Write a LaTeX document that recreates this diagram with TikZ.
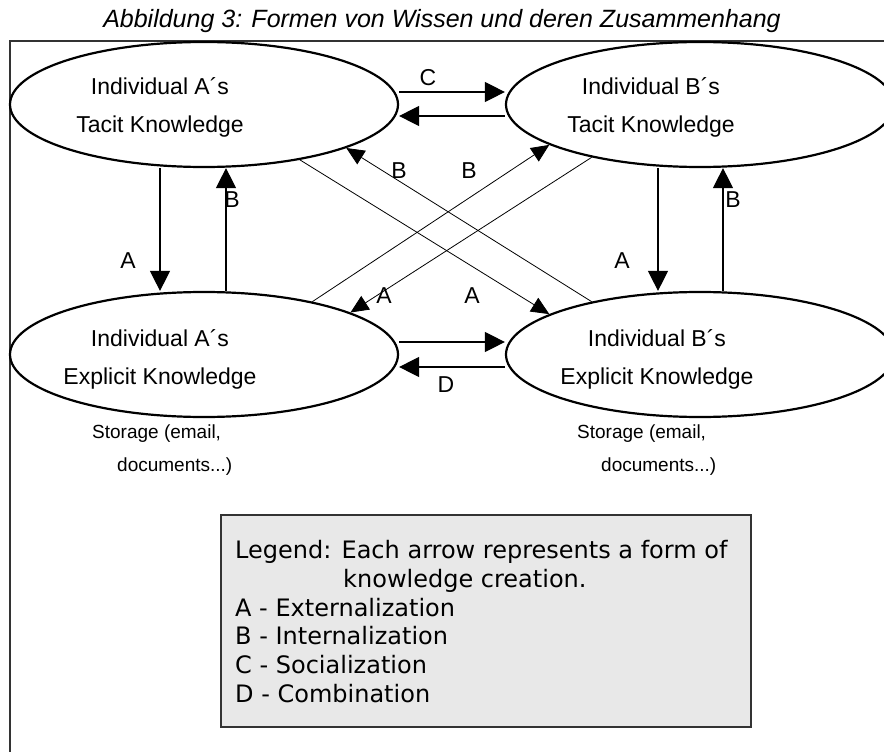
\documentclass[tikz,border=0pt]{standalone}
\usepackage{fontspec}
\setmainfont{Liberation Sans}
\newfontfamily\legendfont{DejaVu Sans}
\usetikzlibrary{arrows.meta,shapes.geometric}

\begin{document}
\begin{tikzpicture}[x=1pt,y=-1pt,
  knowledge/.style={ellipse,draw,line width=2.2pt,minimum width=388pt,minimum height=125pt,inner sep=0pt},
  lbl/.style={font=\fontsize{23}{27}\selectfont,inner sep=0pt,anchor=base},
  note/.style={font=\fontsize{19}{22}\selectfont,inner sep=0pt,anchor=base west},
  legendline/.style={font=\legendfont\fontsize{24}{29}\selectfont,inner sep=0pt,anchor=base west},
  arr/.style={line width=1.2pt,-{Triangle[length=20pt,width=20pt]}},
  diag/.style={line width=0.8pt,-{Triangle[length=18pt,width=16pt]}}]
  \useasboundingbox (0,0) rectangle (884,752);
  % Title and frame
  \node[font=\fontsize{25}{30}\selectfont\itshape,inner sep=0pt,anchor=base] (title) at (442,28)
    {Abbildung 3: Formen von Wissen und deren Zusammenhang};
  \draw[line width=1.4pt,black!80] (10,760) -- (10,41) -- (890,41);
  % Ellipses
  \node[knowledge] (atacit) at (204,104.5) {};
  \node[knowledge] (btacit) at (700,104.5) {};
  \node[knowledge] (aexpl) at (204,354.5) {};
  \node[knowledge] (bexpl) at (700,354.5) {};
  \node[lbl] (atacit1) at (160,95) {Individual A´s};
  \node[lbl] (atacit2) at (160,132) {Tacit Knowledge};
  \node[lbl] (btacit1) at (651,95) {Individual B´s};
  \node[lbl] (btacit2) at (651,132) {Tacit Knowledge};
  \node[lbl] (aexpl1) at (160,346) {Individual A´s};
  \node[lbl] (aexpl2) at (160,384) {Explicit Knowledge};
  \node[lbl] (bexpl1) at (657,346) {Individual B´s};
  \node[lbl] (bexpl2) at (657,384) {Explicit Knowledge};
  % Storage notes
  \node[note] (astore1) at (92,438) {Storage (email,};
  \node[note] (astore2) at (117,471) {documents...)};
  \node[note] (bstore1) at (577,438) {Storage (email,};
  \node[note] (bstore2) at (601,471) {documents...)};
  % Vertical arrows
  \coordinate (xadown) at (160,0);
  \coordinate (xaup) at (226,0);
  \coordinate (xbdown) at (658,0);
  \coordinate (xbup) at (723,0);
  \draw[arr] (atacit.south -| xadown) -- (aexpl.north -| xadown);
  \draw[arr] (aexpl.north -| xaup) -- (atacit.south -| xaup);
  \draw[arr] (btacit.south -| xbdown) -- (bexpl.north -| xbdown);
  \draw[arr] (bexpl.north -| xbup) -- (btacit.south -| xbup);
  % Horizontal arrows
  \coordinate (yc1) at (0,92);
  \coordinate (yc2) at (0,116);
  \coordinate (yd1) at (0,342);
  \coordinate (yd2) at (0,367);
  \draw[arr] (atacit.east |- yc1) -- (btacit.west |- yc1);
  \draw[arr] (btacit.west |- yc2) -- (atacit.east |- yc2);
  \draw[arr] (aexpl.east |- yd1) -- (bexpl.west |- yd1);
  \draw[arr] (bexpl.west |- yd2) -- (aexpl.east |- yd2);
  % Crossing arrows
  \draw[diag] (atacit.330.4) -- (bexpl.165.5);
  \draw[diag] (bexpl.154.9) -- (atacit.343.2);
  \draw[diag] (aexpl.26.8) -- (btacit.195.5);
  \draw[diag] (btacit.206.6) -- (aexpl.16.2);
  % Letters
  \node[lbl] (lc) at (428,85) {C};
  \node[lbl] (ld) at (446,392) {D};
  \node[lbl] (laleft) at (128,268) {A};
  \node[lbl] (lbleft) at (232,207) {B};
  \node[lbl] (laright) at (622,268) {A};
  \node[lbl] (lbright) at (733,207) {B};
  \node[lbl] (lbdiag1) at (399,178) {B};
  \node[lbl] (lbdiag2) at (469,178) {B};
  \node[lbl] (ladiag1) at (384,303) {A};
  \node[lbl] (ladiag2) at (472,303) {A};
  % Legend
  \node[draw=black!80,fill=black!9,line width=1.8pt,minimum width=530pt,minimum height=212pt] (legend) at (486,621) {};
  \node[legendline] (leg1) at (235,558) {Legend: Each arrow represents a form of};
  \node[legendline] (leg2) at (343,587) {knowledge creation.};
  \node[legendline] (leg3) at (235,616) {A - Externalization};
  \node[legendline] (leg4) at (235,644) {B - Internalization};
  \node[legendline] (leg5) at (235,673) {C - Socialization};
  \node[legendline] (leg6) at (235,702) {D - Combination};
\end{tikzpicture}
\end{document}
